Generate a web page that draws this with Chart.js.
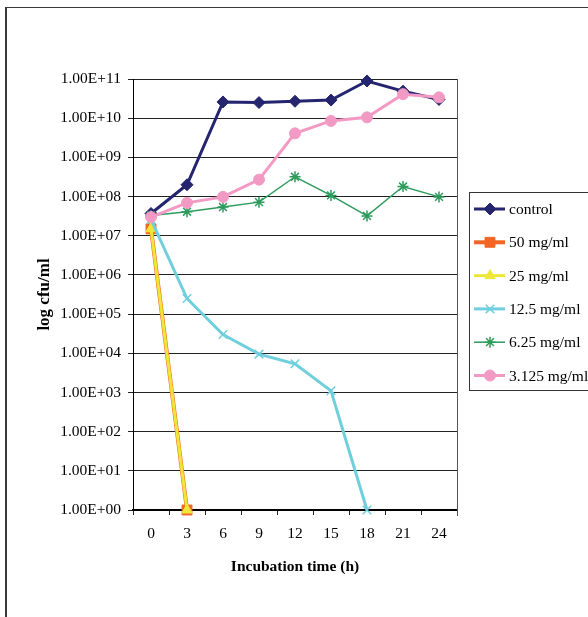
<!DOCTYPE html>
<html><head><meta charset="utf-8">
<script src="https://cdn.jsdelivr.net/npm/chart.js@4/dist/chart.umd.min.js"></script>
<style>
html,body{margin:0;padding:0;background:#fff;}
#wrap{position:relative;width:588px;height:617px;overflow:hidden;background:#fff;}
#frame{position:absolute;left:5px;top:7px;width:700px;height:700px;border-left:2px solid #3a3a3a;border-top:1px solid #3a3a3a;}
canvas{position:absolute;left:0;top:0;}
</style></head>
<body><div id="wrap"><div id="frame"></div><canvas id="c" width="588" height="617"></canvas></div>
<script>
// Categories (incubation time, h)
const categories = ['0','3','6','9','12','15','18','21','24'];
// Series values (cfu/ml)
const control  = [3.7e7, 2.0e8, 2.6e10, 2.5e10, 2.7e10, 2.9e10, 8.9e10, 4.9e10, 3.0e10];
const mg50     = [1.5e7, 1, null, null, null, null, null, null, null];
const mg25     = [1.5e7, 1, null, null, null, null, null, null, null];
const mg12_5   = [2.6e7, 2.5e5, 3.0e4, 9.5e3, 5.4e3, 1.1e3, 1, null, null];
const mg6_25   = [3.3e7, 4.1e7, 5.4e7, 7.2e7, 3.2e8, 1.07e8, 3.2e7, 1.8e8, 9.8e7];
const mg3_125  = [3.0e7, 6.9e7, 9.8e7, 2.7e8, 4.1e9, 8.5e9, 1.05e10, 4.1e10, 3.4e10];
// Series names
const seriesNames = ['control','50 mg/ml','25 mg/ml','12.5 mg/ml','6.25 mg/ml','3.125 mg/ml'];
// Y tick values and labels
const yTickValues = [1e0,1e1,1e2,1e3,1e4,1e5,1e6,1e7,1e8,1e9,1e10,1e11];
const yTickLabels = ['1.00E+00','1.00E+01','1.00E+02','1.00E+03','1.00E+04','1.00E+05','1.00E+06','1.00E+07','1.00E+08','1.00E+09','1.00E+10','1.00E+11'];

const FONT = "'Liberation Serif', 'Times New Roman', serif";
const styles = [
  {color:'#24246f', width:3, point:'rectRot', r:6, pbw:1},
  {color:'#f26522', width:4, point:'rect', r:7, pbw:1},
  {color:'#efe63a', width:3, point:'triangle', r:6, pbw:1},
  {color:'#6fcfdc', width:3, point:'crossRot', r:6, pbw:1.5},
  {color:'#2e9a5c', width:1.5, point:'star', r:5.5, pbw:1.5},
  {color:'#f39ac4', width:3, point:'circle', r:5.5, pbw:1}
];
const seriesData = [control, mg50, mg25, mg12_5, mg6_25, mg3_125];

const datasets = seriesData.map((d,i)=>({
  label: seriesNames[i],
  data: d,
  borderColor: styles[i].color,
  backgroundColor: styles[i].color,
  pointBackgroundColor: styles[i].color,
  pointBorderColor: styles[i].color,
  borderWidth: styles[i].width,
  pointStyle: styles[i].point,
  pointRadius: styles[i].r,
  pointBorderWidth: styles[i].pbw,
  pointHoverRadius: styles[i].r,
  tension: 0,
  spanGaps: false,
  clip: false,
  order: 5 - i
}));

const decor = {
  id:'decor',
  beforeDatasetsDraw(chart){
    const {ctx, chartArea:a} = chart;
    ctx.save();
    ctx.strokeStyle = '#555';
    ctx.lineWidth = 1;
    ctx.beginPath();
    ctx.moveTo(Math.round(a.right)+0.5, a.top);
    ctx.lineTo(Math.round(a.right)+0.5, a.bottom+6);
    ctx.stroke();
    ctx.restore();
  },
  afterDraw(chart){
    const ctx = chart.ctx;
    ctx.save();
    ctx.strokeStyle = '#333';
    ctx.lineWidth = 1;
    ctx.strokeRect(469.5, 192.5, 200, 198);
    seriesNames.forEach((name,i)=>{
      const y = 209 + i*33.3;
      const s = styles[i];
      ctx.strokeStyle = s.color;
      ctx.lineWidth = s.width;
      ctx.beginPath();
      ctx.moveTo(474, y); ctx.lineTo(505, y);
      ctx.stroke();
      ctx.fillStyle = s.color;
      ctx.strokeStyle = s.color;
      ctx.lineWidth = s.pbw;
      Chart.helpers.drawPoint(ctx, {pointStyle:s.point, radius:s.r, rotation:0, borderWidth:s.pbw}, 490, y);
      ctx.fillStyle = '#000';
      ctx.font = '15.5px ' + FONT;
      ctx.textBaseline = 'middle';
      ctx.textAlign = 'left';
      ctx.fillText(name, 509, y+1);
    });
    ctx.restore();
  }
};

new Chart(document.getElementById('c'), {
  type:'line',
  data:{ labels: categories, datasets },
  options:{
    responsive:false,
    animation:false,
    events:[],
    layout:{ padding:{left:0, top:79, right:131, bottom:0} },
    plugins:{ legend:{display:false}, tooltip:{enabled:false}, title:{display:false} },
    scales:{
      x:{
        type:'category',
        offset:true,
        grid:{ offset:true, drawOnChartArea:false, drawTicks:true, tickLength:5, color:'#222', lineWidth:1 },
        border:{ display:true, color:'#000', width:2 },
        ticks:{ color:'#000', font:{family:FONT, size:15.5}, padding:10, maxRotation:0, autoSkip:false },
        title:{ display:true, text:'Incubation time (h)', color:'#000', font:{family:FONT, size:15.5, weight:'bold'}, padding:{top:0,bottom:40.7} },
        afterFit(s){ s.height = 107; }
      },
      y:{
        type:'logarithmic',
        min:1, max:1e11,
        grid:{ color:'#222', lineWidth:1, drawTicks:true, tickLength:5 },
        border:{ display:true, color:'#000', width:1 },
        ticks:{ color:'#000', font:{family:FONT, size:15.5}, padding:7,
          callback(v){ const k = yTickValues.indexOf(v); return k>=0 ? yTickLabels[k] : ''; } },
        afterBuildTicks(s){ s.ticks = yTickValues.map(v=>({value:v})); },
        title:{ display:true, text:'log cfu/ml', color:'#000', font:{family:FONT, size:17, weight:'bold'}, padding:{top:34.8,bottom:0} },
        afterFit(s){ s.width = 133; }
      }
    }
  },
  plugins:[decor]
});
</script>
</body></html>
